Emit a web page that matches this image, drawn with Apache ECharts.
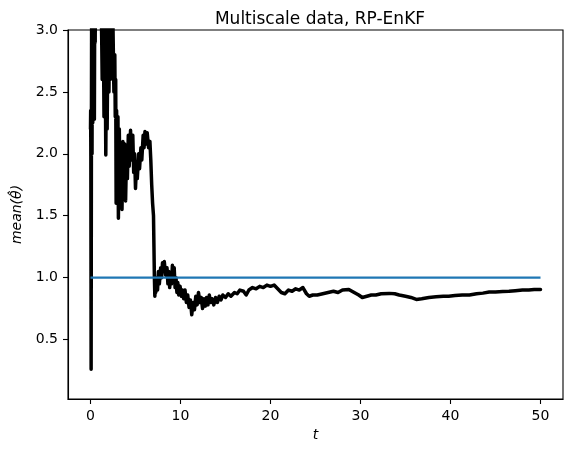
<!DOCTYPE html>
<html>
<head>
<meta charset="utf-8">
<script src="https://cdn.jsdelivr.net/npm/echarts@6/dist/echarts.min.js"></script>
<style>
  html, body { margin: 0; padding: 0; background: #fff; }
  #chart { width: 573px; height: 453px; }
</style>
</head>
<body>
<div id="chart"></div>
<script>
// time points of the RP-EnKF mean estimate
var tVals = [
  0.00, 0.02, 0.04, 0.07, 0.10, 0.13, 0.17, 0.21, 0.25, 0.30, 0.34, 0.38, 0.43, 0.48, 0.52, 0.56,
  0.62, 0.70, 0.85, 1.00, 1.15, 1.25, 1.30, 1.40, 1.50, 1.60, 1.70, 1.78, 1.85, 1.95, 2.05, 2.15,
  2.20, 2.30, 2.40, 2.50, 2.60, 2.70, 2.75, 2.80, 2.85, 2.90, 3.00, 3.05, 3.10, 3.20, 3.30, 3.40,
  3.50, 3.60, 3.70, 3.80, 3.90, 4.00, 4.10, 4.20, 4.30, 4.45, 4.55, 4.70, 4.80, 4.90, 5.00, 5.10,
  5.20, 5.35, 5.45, 5.60, 5.70, 5.85, 5.95, 6.05, 6.20, 6.30, 6.45, 6.60, 6.70, 6.80, 6.90, 7.00,
  7.05, 7.10, 7.15, 7.20, 7.25, 7.35, 7.45, 7.55, 7.65, 7.80, 7.90, 8.00, 8.10, 8.20, 8.35, 8.50,
  8.60, 8.70, 8.80, 8.90, 9.00, 9.10, 9.20, 9.30, 9.40, 9.50, 9.60, 9.70, 9.80, 9.95, 10.1, 10.2,
  10.35, 10.5, 10.65, 10.8, 10.95, 11.1, 11.25, 11.4, 11.55, 11.7, 11.85, 12.0, 12.15, 12.3, 12.45, 12.6,
  12.75, 12.9, 13.05, 13.2, 13.35, 13.5, 13.7, 13.9, 14.1, 14.3, 14.5, 14.7, 15.0, 15.3, 15.6, 16.0,
  16.3, 16.6, 17.0, 17.3, 17.6, 18.0, 18.4, 18.8, 19.2, 19.6, 20.0, 20.4, 20.8, 21.2, 21.6, 22.0,
  22.4, 22.8, 23.2, 23.6, 24.0, 24.3, 24.7, 25.2, 25.8, 26.4, 27.0, 27.5, 28.0, 28.7, 29.3, 29.8,
  30.2, 30.7, 31.2, 31.7, 32.3, 33.2, 33.8, 34.3, 35.0, 35.6, 36.2, 36.8, 37.6, 38.4, 39.2, 39.8,
  40.5, 41.3, 42.1, 42.9, 43.6, 44.3, 45.0, 45.8, 46.5, 47.2, 48.0, 48.7, 49.3, 50.0
];
var meanVals = [
  2.20, 2.35, 1.98, 0.26, 2.05, 3.30, 2.00, 3.40, 2.25, 3.50, 2.40, 3.60, 2.28, 3.50, 2.90, 3.60,
  3.20, 3.70, 3.50, 3.80, 3.40, 2.90, 2.60, 3.30, 2.30, 3.20, 1.99, 2.90, 2.20, 3.10, 2.50, 3.20,
  2.60, 3.00, 2.75, 3.02, 2.50, 2.80, 2.30, 2.60, 1.60, 2.35, 1.75, 2.30, 1.48, 2.20, 1.60, 2.05,
  1.55, 2.10, 1.70, 2.08, 1.62, 2.00, 1.80, 2.15, 1.90, 2.19, 1.95, 2.15, 1.85, 2.00, 1.72, 1.90,
  1.80, 2.00, 1.88, 2.05, 1.95, 2.15, 2.05, 2.18, 2.08, 2.17, 2.05, 2.10, 1.95, 1.75, 1.60, 1.50,
  1.25, 1.00, 0.85, 0.95, 0.88, 1.00, 0.90, 1.05, 0.95, 1.08, 1.00, 1.12, 1.05, 1.13, 1.02, 1.08,
  0.95, 1.05, 0.92, 1.02, 0.95, 1.10, 0.98, 1.08, 0.92, 1.00, 0.88, 0.96, 0.86, 0.93, 0.85, 0.90,
  0.83, 0.90, 0.80, 0.86, 0.76, 0.82, 0.70, 0.80, 0.74, 0.85, 0.78, 0.88, 0.80, 0.84, 0.75, 0.83,
  0.77, 0.84, 0.78, 0.86, 0.80, 0.83, 0.78, 0.84, 0.80, 0.85, 0.82, 0.86, 0.84, 0.87, 0.85, 0.88,
  0.87, 0.90, 0.89, 0.86, 0.90, 0.92, 0.91, 0.93, 0.92, 0.94, 0.93, 0.94, 0.91, 0.88, 0.87, 0.90,
  0.89, 0.91, 0.90, 0.92, 0.87, 0.85, 0.86, 0.86, 0.87, 0.88, 0.89, 0.88, 0.90, 0.905, 0.88, 0.86,
  0.84, 0.85, 0.86, 0.86, 0.87, 0.873, 0.87, 0.86, 0.85, 0.84, 0.824, 0.83, 0.84, 0.845, 0.85, 0.85,
  0.855, 0.86, 0.86, 0.87, 0.875, 0.884, 0.885, 0.888, 0.89, 0.895, 0.90, 0.90, 0.905, 0.905
];
// reference value (true theta)
var trueT = [0, 50];
var trueVals = [1, 1];

var xTicks = [0, 10, 20, 30, 40, 50];
var yTicks = [0.5, 1.0, 1.5, 2.0, 2.5, 3.0];

var zip = function (a, b) {
  return a.map(function (v, i) { return [v, b[i]]; });
};

var font = 'DejaVu Sans';
var chart = echarts.init(document.getElementById('chart'), null, { renderer: 'canvas' });

var option = {
  animation: false,
  backgroundColor: '#fff',
  title: {
    text: 'Multiscale data, RP-EnKF',
    left: 315,
    textAlign: 'center',
    top: 6,
    textStyle: { fontFamily: font, fontSize: 17, fontWeight: 'normal', color: '#000' }
  },
  grid: {
    left: 68, right: 10, top: 30, bottom: 54,
    show: true, borderColor: '#000', borderWidth: 1.1, backgroundColor: 'transparent'
  },
  xAxis: {
    type: 'value',
    min: -2.5,
    max: 52.5,
    name: 't',
    nameLocation: 'middle',
    nameGap: 29,
    nameTextStyle: { fontFamily: font, fontSize: 14, fontStyle: 'italic', color: '#000' },
    axisLine: { show: true, onZero: false, lineStyle: { color: '#000', width: 1.1 } },
    axisTick: { show: true, length: 5, lineStyle: { color: '#000', width: 1.1 }, customValues: xTicks },
    axisLabel: { margin: 10, fontFamily: font, fontSize: 14, color: '#000', customValues: xTicks },
    splitLine: { show: false }
  },
  yAxis: {
    type: 'value',
    min: 0.02,
    max: 3.0,
    name: 'mean(\u03B8\u0302)',
    nameLocation: 'middle',
    nameRotate: 90,
    nameGap: 42,
    nameTextStyle: { fontFamily: font, fontSize: 14, fontStyle: 'italic', color: '#000' },
    axisLine: { show: true, onZero: false, lineStyle: { color: '#000', width: 1.1 } },
    axisTick: { show: true, length: 5, lineStyle: { color: '#000', width: 1.1 }, customValues: yTicks },
    axisLabel: {
      margin: 10, fontFamily: font, fontSize: 14, color: '#000', customValues: yTicks,
      formatter: function (v) { return v.toFixed(1); }
    },
    splitLine: { show: false }
  },
  series: [
    {
      name: 'mean',
      type: 'line',
      data: zip(tVals, meanVals),
      showSymbol: false,
      clip: true,
      lineStyle: { color: '#000', width: 3.5, join: 'round', cap: 'round' },
      z: 2
    },
    {
      name: 'true',
      type: 'line',
      data: zip(trueT, trueVals),
      showSymbol: false,
      clip: true,
      lineStyle: { color: '#1f77b4', width: 2.1 },
      z: 3
    }
  ]
};

chart.setOption(option);
</script>
</body>
</html>
